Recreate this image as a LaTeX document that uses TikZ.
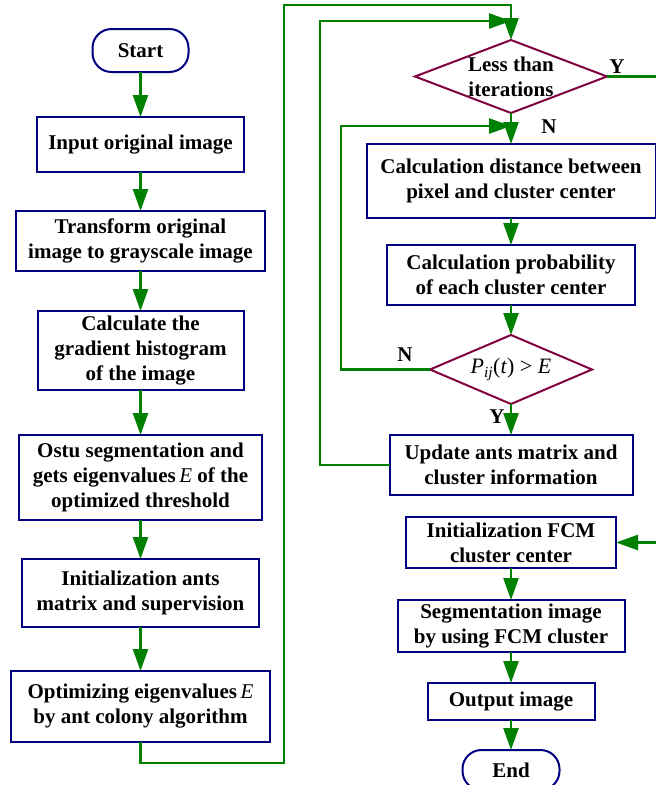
\documentclass[tikz,border=0pt]{standalone}
\usepackage{fontspec}
\setmainfont{Liberation Serif}
\usepackage{tikz}
\usetikzlibrary{positioning,shapes.geometric,arrows.meta}
\definecolor{w_navy}{HTML}{000080}
\definecolor{w_green}{HTML}{008000}
\definecolor{w_maroon}{HTML}{800040}
\newcommand{\eigE}{\textit{\mdseries E}}
\begin{document}
\begin{tikzpicture}[x=1pt,y=-1pt,font=\fontsize{21}{25}\selectfont\bfseries,
box/.style={draw=w_navy,line width=2pt,fill=white,align=center,inner sep=0pt,outer sep=0pt},
term/.style={box,rounded corners=19pt,minimum width=96pt,minimum height=43pt},
decision/.style={diamond,draw=w_maroon,line width=2pt,inner sep=0pt,outer sep=0pt},
flow/.style={draw=w_green,line width=2.5pt,-{Triangle[length=22pt,width=15pt]}}]
\useasboundingbox (0,0) rectangle (656,785);
\node[term] (start) at (140.5,50.5) {Start};
\node[box,minimum width=207pt,minimum height=55pt,below=45pt of start] (input) {Input original image};
\node[box,minimum width=249pt,minimum height=60pt,below=39pt of input] (gray) {Transform original\\image to grayscale image};
\node[box,minimum width=206pt,minimum height=79pt,below=40pt of gray] (hist) {Calculate the\\gradient histogram\\of the image};
\node[box,minimum width=243pt,minimum height=85pt,below=45pt of hist] (ostu) {Ostu segmentation and\\gets eigenvalues\,\eigE{} of the\\optimized threshold};
\node[box,minimum width=237pt,minimum height=68pt,below=39pt of ostu] (ants) {Initialization ants\\matrix and supervision};
\node[box,minimum width=259pt,minimum height=71pt,below=44pt of ants] (aco) {Optimizing eigenvalues\,\eigE\\by ant colony algorithm};
\node[decision,minimum width=192pt,minimum height=73pt] (iter) at (511,76.5) {};
\node[align=center] (itertxt) at (iter) {Less than\\iterations};
\node[box,minimum width=289pt,minimum height=74pt,below=31pt of iter] (dist) {Calculation distance between\\pixel and cluster center};
\node[box,minimum width=248pt,minimum height=60pt,below=27pt of dist] (prob) {Calculation probability\\of each cluster center};
\node[decision,minimum width=162pt,minimum height=69pt,below=30pt of prob] (judge) {};
\node[font=\fontsize{22}{25}\selectfont\mdseries] (judgetxt) at (judge) {\textit{P}\textsubscript{\textit{ij}}(\textit{t}) \textgreater{} \textit{E}};
\node[box,minimum width=243pt,minimum height=60pt,below=31pt of judge] (update) {Update ants matrix and\\cluster information};
\node[box,minimum width=210pt,minimum height=51pt,below=22pt of update] (fcm) {Initialization FCM\\cluster center};
\node[box,minimum width=227pt,minimum height=52pt,below=32pt of fcm] (seg) {Segmentation image\\by using FCM cluster};
\node[box,minimum width=167pt,minimum height=37pt,below=31pt of seg] (out) {Output image};
\node[term,minimum width=97pt,minimum height=40pt,below=30pt of out] (end) {End};
\coordinate (outB) at (284,763);
\coordinate (topA) at (511,5);
\coordinate (loopB) at (320,21);
\coordinate (j1) at (511,21);
\coordinate (loopC) at (341,126);
\coordinate (j2) at (511,126);
\coordinate (offright) at (664,300);
\foreach \a/\b in {start/input,input/gray,gray/hist,hist/ostu,ostu/ants,ants/aco,iter/dist,dist/prob,prob/judge,judge/update,fcm/seg,seg/out,out/end}
  \draw[flow] (\a) -- (\b);
\draw[flow] (aco.south) |- (outB) |- (topA) -- (iter.north);
\draw[flow] (update.west) -| (loopB) -- (j1);
\draw[flow] (judge.west) -| (loopC) -- (j2);
\draw[flow] (iter.east) -| (offright) |- (fcm.east);
\node (yes1) at (617,67) {Y};
\node (no1) at (549,127) {N};
\node (no2) at (405,355) {N};
\node (yes2) at (497,417) {Y};
\end{tikzpicture}
\end{document}
